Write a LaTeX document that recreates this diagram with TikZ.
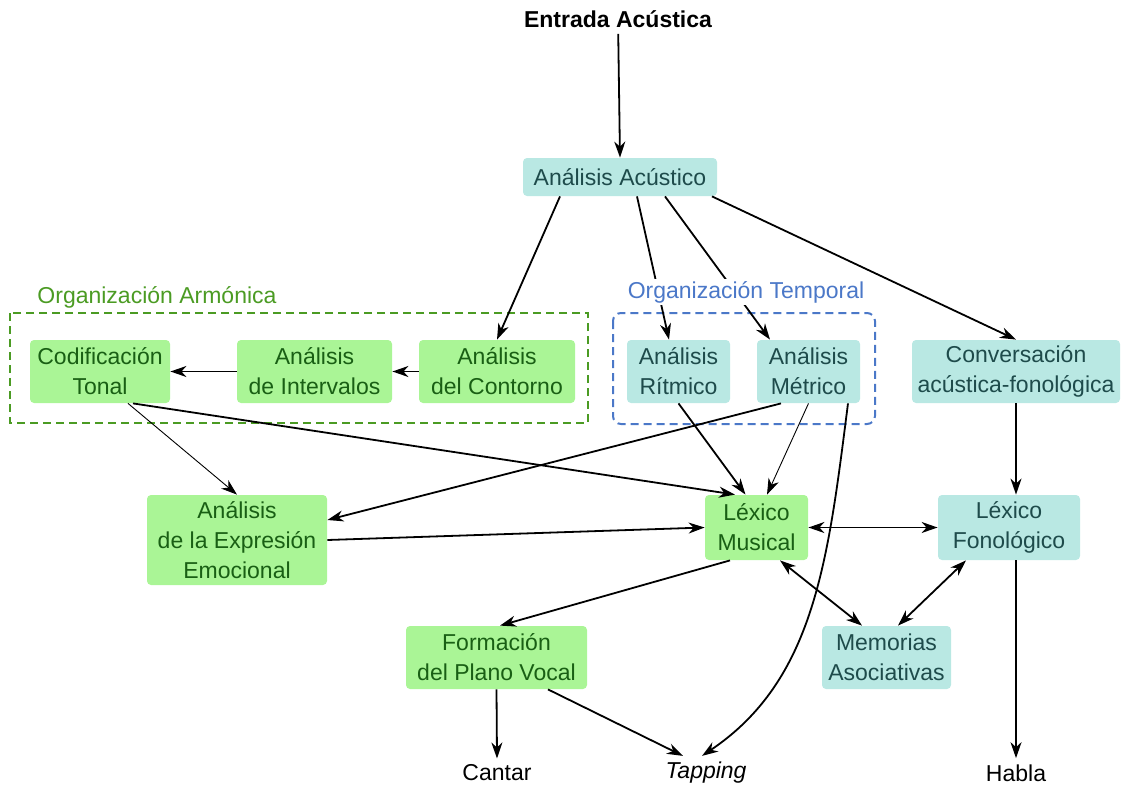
\documentclass[tikz,border=0pt]{standalone}
\usepackage{fontspec}
\setmainfont{Liberation Sans}
\usetikzlibrary{arrows.meta,positioning}
\definecolor{greenfill}{RGB}{170,245,150}
\definecolor{greentext}{RGB}{25,95,20}
\definecolor{tealfill}{RGB}{185,232,227}
\definecolor{tealtext}{RGB}{30,75,75}
\definecolor{armonica}{RGB}{75,155,35}
\definecolor{temporal}{RGB}{75,120,200}

\begin{document}
\begin{tikzpicture}[
  x=0.5pt, y=-0.5pt,
  font=\fontsize{11.5pt}{15pt}\selectfont,
  >={Stealth[length=8pt,width=5.5pt,inset=2.5pt]},
  greenbox/.style={rectangle, rounded corners=2pt, fill=greenfill, text=greentext, align=center, inner sep=0pt},
  tealbox/.style={rectangle, rounded corners=2pt, fill=tealfill, text=tealtext, align=center, inner sep=0pt},
  endpoint/.style={align=center, inner sep=3pt},
  flow/.style={->, line width=0.9pt},
  thinflow/.style={->, line width=0.45pt},
  both/.style={<->, line width=0.9pt},
  group/.style={line width=1pt, dash pattern=on 4pt off 2.5pt}
]
\useasboundingbox (0,0) rectangle (1124,787);

\draw[group, armonica] (10,313) rectangle (588,423);
\draw[group, temporal, rounded corners=4pt] (613,313) rectangle (875,424);
\node[text=armonica] (armlabel) at (157,297) {Organización Armónica};

\node[endpoint, font=\fontsize{11.5pt}{15pt}\bfseries] (entrada) at (618,19) {Entrada Acústica};
\node[tealbox, minimum width=97pt, minimum height=19pt] (acustico) at (620,177) {Análisis Acústico};

\node[greenbox, minimum width=70pt, minimum height=31.5pt] (codificacion) at (100,371.5) {Codificación\\Tonal};
\node[greenbox, minimum width=77.5pt, minimum height=31.5pt] (intervalos) at (314.5,371.5) {Análisis\\de Intervalos};
\node[greenbox, minimum width=78pt, minimum height=31.5pt] (contorno) at (497,371.5) {Análisis\\del Contorno};
\node[tealbox, minimum width=51.5pt, minimum height=31.5pt] (ritmico) at (678.5,371.5) {Análisis\\Rítmico};
\node[tealbox, minimum width=51.5pt, minimum height=31.5pt] (metrico) at (808.5,371.5) {Análisis\\Métrico};
\node[tealbox, minimum width=104pt, minimum height=31.5pt] (conversacion) at (1016,371.5) {Conversación\\acústica-fonológica};

\node[greenbox, minimum width=90pt, minimum height=45pt] (expresion) at (237,540) {Análisis\\de la Expresión\\Emocional};
\node[greenbox, minimum width=51.5pt, minimum height=32.5pt] (musical) at (756.5,527.5) {Léxico\\Musical};
\node[tealbox, minimum width=71pt, minimum height=32.5pt] (fonologico) at (1009,527.5) {Léxico\\Fonológico};

\node[greenbox, minimum width=90.5pt, minimum height=31.5pt] (formacion) at (496.5,657.5) {Formación\\del Plano Vocal};
\node[tealbox, minimum width=64.5pt, minimum height=31.5pt] (memorias) at (886.5,657.5) {Memorias\\Asociativas};

\node[endpoint] (cantar) at (497,773) {Cantar};
\node[endpoint] (tapping) at (706,773) {\itshape Tapping};
\node[endpoint] (habla) at (1016,773) {Habla};

\draw[flow] (entrada) -- (acustico.north);
\draw[flow] ([xshift=-30pt]acustico.south) -- (contorno.north);
\draw[flow] ([xshift=8.5pt]acustico.south) -- ([xshift=-4.75pt]ritmico.north);
\draw[flow] ([xshift=22.5pt]acustico.south) -- ([xshift=-19.25pt]metrico.north);
\draw[flow] ([xshift=46pt]acustico.south) -- (conversacion.north);

\draw[flow] (contorno) -- (intervalos);
\draw[flow] (intervalos) -- (codificacion);

\draw[thinflow] ([xshift=14pt]codificacion.south) -- (expresion.north);
\draw[flow] ([xshift=16.5pt]codificacion.south) -- ([xshift=-10.75pt]musical.north);
\draw[flow] ([xshift=-13.75pt]metrico.south) -- ([yshift=10pt]expresion.east);
\draw[thinflow] (metrico.south) -- ([xshift=5.25pt]musical.north);
\draw[flow] (ritmico.south) -- ([xshift=-5.5pt]musical.north);
\draw[flow] ([xshift=19.75pt]metrico.south) .. controls (828,560) and (815,680) .. ([xshift=-2pt]tapping.north);

\draw[flow] (expresion.east) -- (musical.west);
\draw[flow] (conversacion.south) -- (conversacion.south |- fonologico.north);
\draw[both] (musical.east) -- (fonologico.west);
\draw[both] ([xshift=11.75pt]musical.south) -- ([xshift=-12.25pt]memorias.north);
\draw[both] ([xshift=-21.5pt]fonologico.south) -- ([xshift=5.75pt]memorias.north);
\draw[flow] ([xshift=-13.25pt]musical.south) -- ([xshift=1.75pt]formacion.north);

\draw[flow] (habla.north |- fonologico.south) -- (habla.north);
\draw[flow] (formacion.south) -- (cantar.north);
\draw[flow] ([xshift=25.75pt]formacion.south) -- ([xshift=-11.5pt]tapping.north);

\node[text=temporal, fill=white, inner sep=1pt] (templabel) at (746,292) {Organización Temporal};
\end{tikzpicture}
\end{document}
